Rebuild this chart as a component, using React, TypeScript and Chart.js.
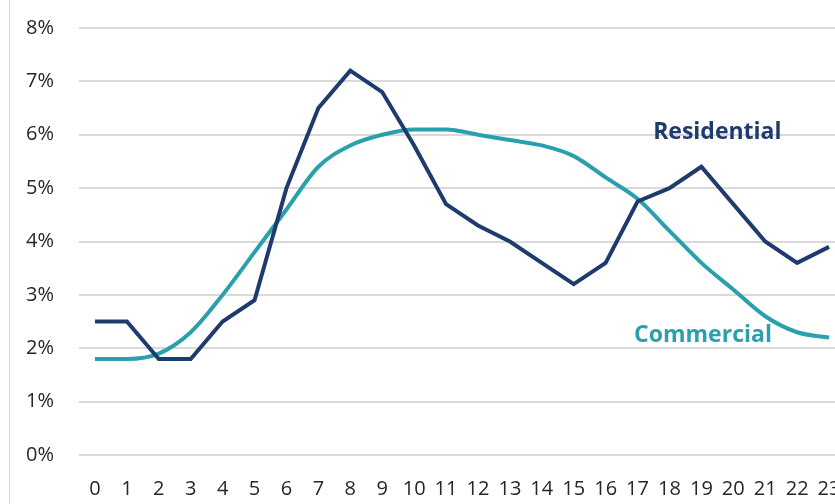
import React, { useEffect, useRef } from "react";
import { Chart, registerables } from "chart.js";

Chart.register(...registerables);

const hours: string[] = ["0","1","2","3","4","5","6","7","8","9","10","11","12","13","14","15","16","17","18","19","20","21","22","23"];
const residential: number[] = [2.5,2.5,1.8,1.8,2.5,2.9,5.0,6.5,7.2,6.8,5.8,4.7,4.3,4.0,3.6,3.2,3.6,4.75,5.0,5.4,4.7,4.0,3.6,3.9];
const commercial: number[] = [1.8,1.8,1.9,2.3,3.0,3.8,4.6,5.4,5.8,6.0,6.1,6.1,6.0,5.9,5.8,5.6,5.2,4.8,4.2,3.6,3.1,2.6,2.3,2.2];
const yTicks: number[] = [0,1,2,3,4,5,6,7,8];

const NAVY = "#1F3B6E";
const TEAL = "#2AA0AC";
const FONT = "'Open Sans', 'Noto Sans', sans-serif";

const seriesLabels = {
  id: "seriesLabels",
  afterDatasetsDraw(chart: any) {
    const { ctx, scales } = chart;
    const x = scales.x, y = scales.y;
    ctx.save();
    ctx.font = `bold 23px ${FONT}`;
    ctx.textAlign = "center";
    ctx.textBaseline = "middle";
    ctx.fillStyle = NAVY;
    ctx.fillText("Residential", x.getPixelForValue(19.5), y.getPixelForValue(6.05));
    ctx.fillStyle = TEAL;
    ctx.fillText("Commercial", x.getPixelForValue(19.05), y.getPixelForValue(2.24));
    ctx.restore();
  },
};

export default function App() {
  const ref = useRef<HTMLCanvasElement>(null);
  useEffect(() => {
    if (!ref.current) return;
    const chart = new Chart(ref.current, {
      type: "line",
      data: {
        labels: hours,
        datasets: [
          {
            label: "Residential",
            data: residential,
            borderColor: NAVY,
            backgroundColor: NAVY,
            borderWidth: 4,
            pointRadius: 0,
            tension: 0,
            borderJoinStyle: "miter",
          },
          {
            label: "Commercial",
            data: commercial,
            borderColor: TEAL,
            backgroundColor: TEAL,
            borderWidth: 4,
            pointRadius: 0,
            cubicInterpolationMode: "monotone",
          },
        ],
      },
      options: {
        responsive: false,
        animation: false,
        layout: { padding: { left: 0, right: 35, top: 18, bottom: 0 } },
        plugins: { legend: { display: false }, tooltip: { enabled: false } },
        scales: {
          x: {
            offset: true,
            grid: { display: false, drawTicks: false },
            border: { display: false },
            ticks: {
              color: "#262626",
              font: { family: FONT, size: 20 },
              padding: 22,
              maxRotation: 0,
              autoSkip: false,
            },
            afterFit: (s: any) => { s.height = 49; },
          },
          y: {
            min: 0,
            max: 8,
            afterBuildTicks: (s: any) => { s.ticks = yTicks.map((v) => ({ value: v })); },
            grid: { color: "#D9D9D9", lineWidth: 2, drawTicks: false },
            border: { display: false },
            ticks: {
              color: "#262626",
              font: { family: FONT, size: 20 },
              padding: 25,
              callback: (v: any) => `${v}%`,
            },
            afterFit: (s: any) => { s.width = 79; },
          },
        },
      },
      plugins: [seriesLabels],
    });
    return () => chart.destroy();
  }, []);
  return (
    <div style={{ position: "fixed", left: 0, top: 0, width: 835, height: 504, overflow: "hidden", background: "#fff" }}>
      <canvas ref={ref} width={880} height={513} style={{ position: "absolute", left: 0, top: -9 }} />
      <div style={{ position: "absolute", left: 9, top: 0, width: 1, height: 504, background: "#D9D9D9" }} />
    </div>
  );
}
